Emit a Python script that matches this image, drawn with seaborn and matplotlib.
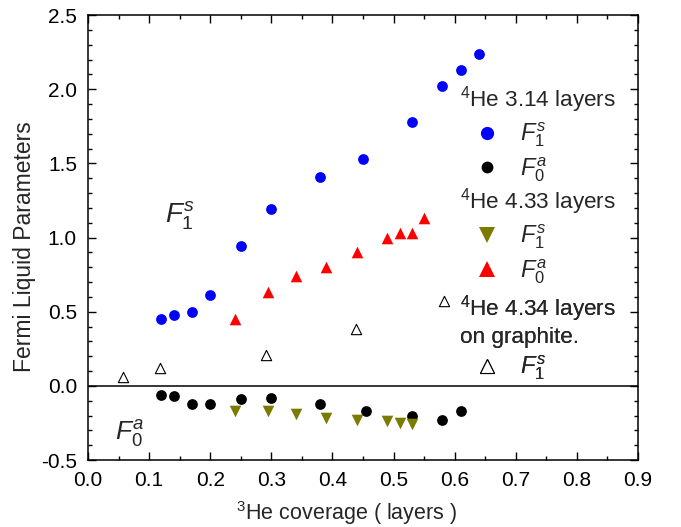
import matplotlib
matplotlib.use("Agg")
import matplotlib.pyplot as plt
import seaborn as sns
import numpy as np
import pandas as pd
from matplotlib.lines import Line2D
from matplotlib.ticker import MultipleLocator, FormatStrFormatter

# ---------------- data ----------------
cov_314 = [0.12, 0.14, 0.17, 0.20, 0.25, 0.30, 0.38, 0.45, 0.53, 0.58, 0.61, 0.64]
f1s_314 = [0.45, 0.48, 0.50, 0.61, 0.94, 1.19, 1.41, 1.53, 1.78, 2.02, 2.13, 2.24]
cov_314_a = [0.12, 0.14, 0.17, 0.20, 0.25, 0.30, 0.38, 0.455, 0.53, 0.58, 0.61]
f0a_314 = [-0.06, -0.07, -0.12, -0.12, -0.09, -0.08, -0.12, -0.17, -0.20, -0.23, -0.17]

cov_433_s = [0.24, 0.295, 0.34, 0.39, 0.44, 0.49, 0.51, 0.53]
f1s_433 = [-0.17, -0.17, -0.19, -0.22, -0.23, -0.24, -0.25, -0.26]
cov_433_a = [0.24, 0.295, 0.34, 0.39, 0.44, 0.49, 0.51, 0.53, 0.55]
f0a_433 = [0.45, 0.63, 0.74, 0.80, 0.90, 1.00, 1.03, 1.03, 1.13]

cov_434 = [0.058, 0.117, 0.292, 0.438, 0.583]
f1s_434 = [0.06, 0.12, 0.21, 0.38, 0.57]

x_ticks = [0.0, 0.1, 0.2, 0.3, 0.4, 0.5, 0.6, 0.7, 0.8, 0.9]
y_ticks = [-0.5, 0.0, 0.5, 1.0, 1.5, 2.0, 2.5]

header_314 = r"$^4$He 3.14 layers"
header_433 = r"$^4$He 4.33 layers"
header_434 = "$^4$He 4.34 layers\non graphite."
lab_f1s = r"$\mathit{F_1^s}$"
lab_f0a = r"$\mathit{F_0^a}$"

# ---------------- style ----------------
sns.set_theme(style="ticks")
rc = plt.rcParams
rc["font.family"] = ["Liberation Sans", "DejaVu Sans"]
rc["mathtext.fontset"] = "custom"
rc["mathtext.rm"] = "Liberation Sans"
rc["mathtext.it"] = "Liberation Sans:italic"
rc["mathtext.bf"] = "Liberation Sans:bold"
rc["axes.unicode_minus"] = False
for a in ("x", "y"):
    rc[f"{a}tick.direction"] = "in"
    rc[f"{a}tick.color"] = "black"
    rc[f"{a}tick.labelcolor"] = "black"
    rc[f"{a}tick.major.size"] = 5.5
    rc[f"{a}tick.minor.size"] = 3.0
    rc[f"{a}tick.major.width"] = 1.0
    rc[f"{a}tick.minor.width"] = 1.0
    rc[f"{a}tick.major.pad"] = 8
    rc[f"{a}tick.labelsize"] = 15
rc["xtick.top"] = True
rc["xtick.bottom"] = True
rc["ytick.left"] = True
rc["ytick.right"] = True
rc["axes.edgecolor"] = "black"
rc["axes.linewidth"] = 1.1

fig = plt.figure(figsize=(6.81, 5.27), dpi=100)
ax = fig.add_axes([88 / 681, 1 - 460 / 527, 550 / 681, 445 / 527])

ax.axhline(0, color="black", lw=1.1, zorder=1)

sns.scatterplot(x=cov_314, y=f1s_314, ax=ax, marker="o", color="#0000ff", s=60,
                linewidth=0, zorder=3)
sns.scatterplot(x=cov_314_a, y=f0a_314, ax=ax, marker="o", color="black", s=60,
                linewidth=0, zorder=3)
sns.scatterplot(x=cov_433_s, y=f1s_433, ax=ax, marker="v", color="#7b7b00", s=70,
                linewidth=0, zorder=3)
sns.scatterplot(x=cov_433_a, y=f0a_433, ax=ax, marker="^", color="#ff0000", s=70,
                linewidth=0, zorder=3)
sns.scatterplot(x=cov_434, y=f1s_434, ax=ax, marker="^", color="white", s=55,
                edgecolor="black", linewidth=0.8, zorder=3)

ax.set_xlim(0.0, 0.9)
ax.set_ylim(-0.5, 2.5)
ax.set_xticks(x_ticks)
ax.set_yticks(y_ticks)
ax.xaxis.set_minor_locator(MultipleLocator(0.05))
ax.yaxis.set_minor_locator(MultipleLocator(0.1))
ax.xaxis.set_major_formatter(FormatStrFormatter("%.1f"))
ax.yaxis.set_major_formatter(FormatStrFormatter("%.1f"))
ax.tick_params(which="both", direction="in", top=True, bottom=True,
               left=True, right=True, color="black")
ax.tick_params(which="major", length=5.5, width=1.0)
ax.tick_params(which="minor", length=3.0, width=1.0)
for sp in ax.spines.values():
    sp.set_visible(True)
    sp.set_color("black")
    sp.set_linewidth(1.1)

ax.set_xlabel(r"$^3$He coverage ( layers )", fontsize=15.5)
ax.set_ylabel("Fermi Liquid Parameters", fontsize=16.5)
ax.xaxis.set_label_coords(0.47, -0.088)
ax.yaxis.set_label_coords(-0.095, 0.48)

ax.text(0.126, 1.10, lab_f1s, fontsize=20, va="baseline", ha="left")
ax.text(0.044, -0.366, lab_f0a, fontsize=19, va="baseline", ha="left")

# ---------------- legends ----------------
h_blue = Line2D([], [], ls="none", marker="o", color="#0000ff", markersize=9.5, mew=0)
h_black = Line2D([], [], ls="none", marker="o", color="black", markersize=8.5, mew=0)
h_olive = Line2D([], [], ls="none", marker="v", color="#7b7b00", markersize=11, mew=0)
h_red = Line2D([], [], ls="none", marker="^", color="#ff0000", markersize=11, mew=0)
h_open = Line2D([], [], ls="none", marker="^", mfc="white", mec="black", markersize=10, mew=0.8)

x0 = 0.676


def make_leg(handles, labels, title, ytop):
    leg = ax.legend(handles, labels, title=title, loc="upper left",
                    bbox_to_anchor=(x0, ytop), bbox_transform=ax.transAxes,
                    frameon=False, borderpad=0, borderaxespad=0,
                    handlelength=2.3, handletextpad=0.25, labelspacing=0.25,
                    fontsize=17, title_fontsize=16.2, alignment="left")
    ax.add_artist(leg)
    return leg


make_leg([h_blue, h_black], [lab_f1s, lab_f0a], header_314, 0.845)
make_leg([h_olive, h_red], [lab_f1s, lab_f0a], header_433, 0.616)
make_leg([h_open], [lab_f1s], header_434, 0.376)

fig.savefig("out.png", dpi=100)
